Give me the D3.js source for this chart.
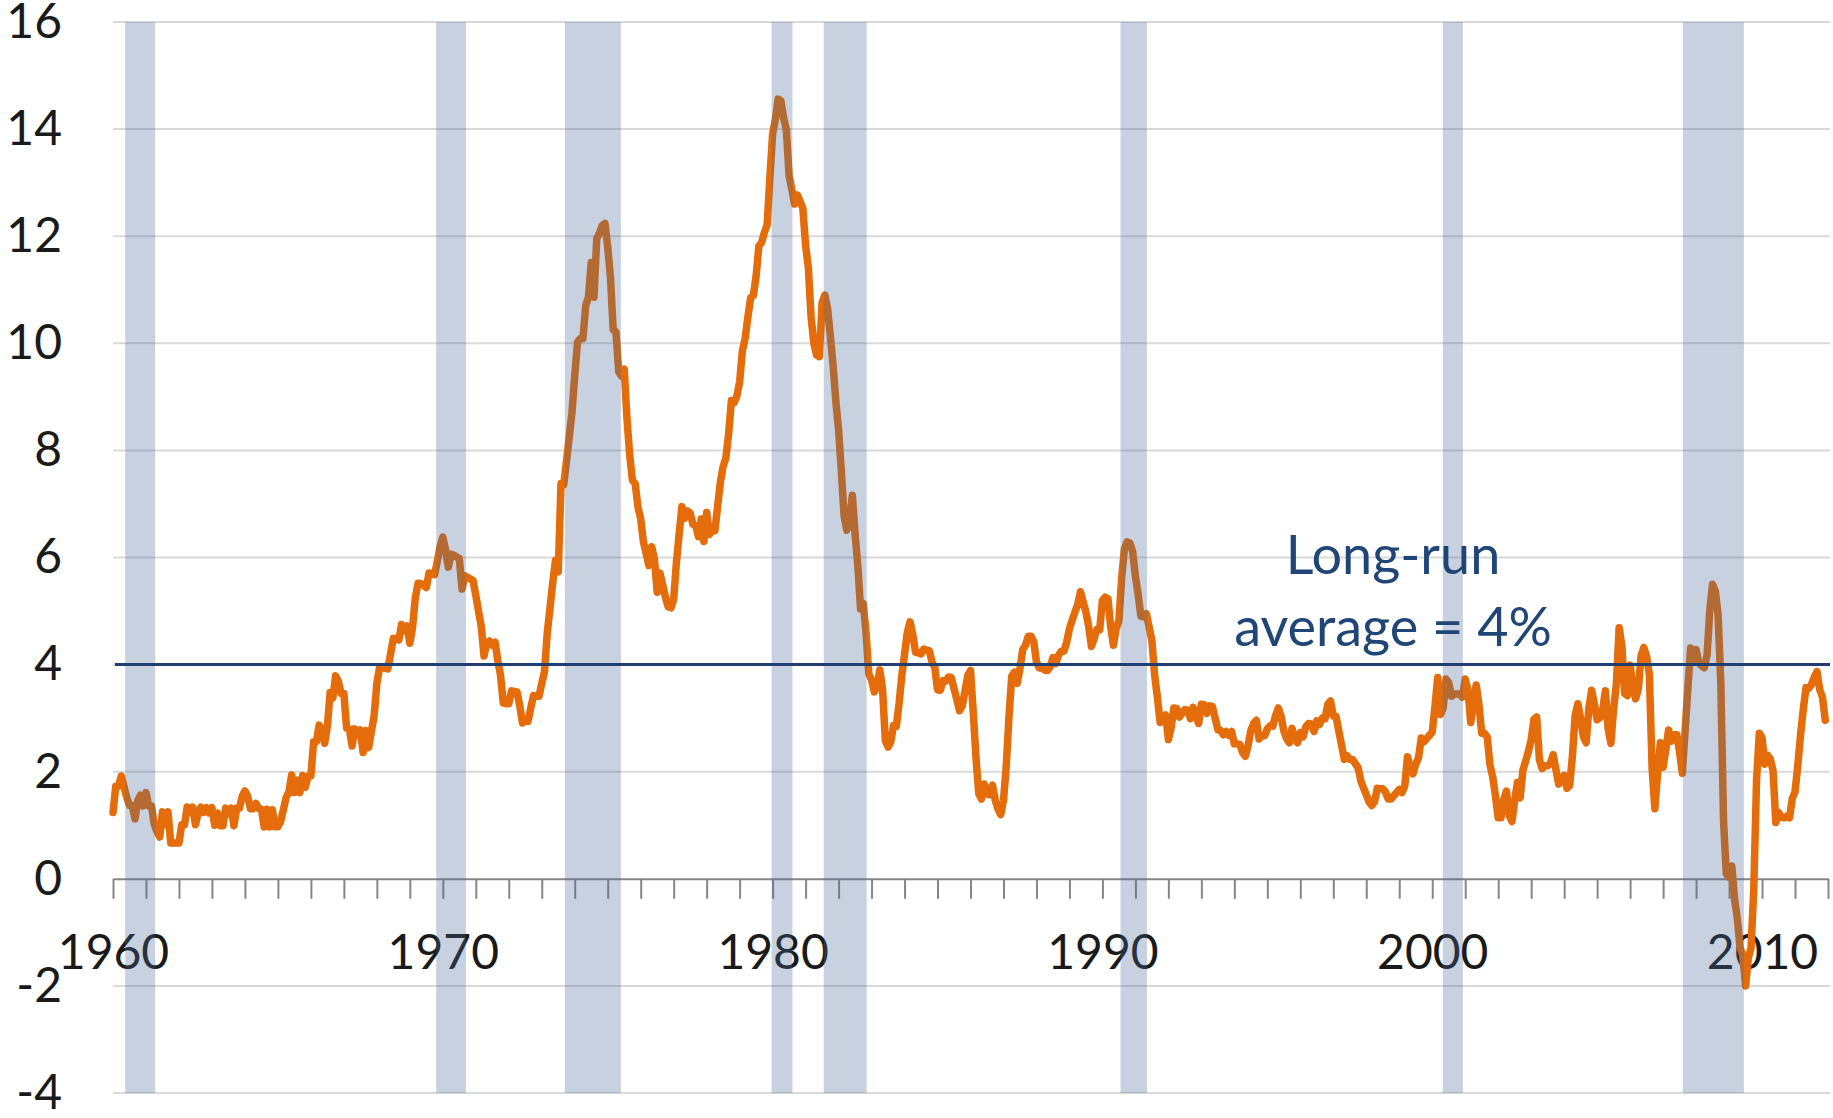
<html lang="en">
<head>
    <meta charset="utf-8">
    <title>Inflation and recessions</title>
    <script src="https://cdn.jsdelivr.net/npm/d3@7/dist/d3.min.js"></script>
    <style type="text/css">
        body {
            margin: 0;
            background: #fff;
        }
        svg text {
            font-family: Lato, "Open Sans", sans-serif;
        }
        .grid line {
            stroke: #d9d9d9;
            stroke-width: 2px;
        }
        .xaxis path,
        .xaxis line {
            stroke: #868686;
            stroke-width: 2px;
            fill: none;
        }
    </style>
</head>
<body>
<div id="chart"></div>
<script type="text/javascript">

    // monthly CPI inflation, % change from a year earlier, Jan 1960 - Dec 2011
    var startYear = 1960;
    var inflation = [
        1.24, 1.73, 1.73, 1.92, 1.72, 1.52, 1.37, 1.37, 1.12, 1.46, 1.56, 1.36,
        1.61, 1.36, 1.36, 1.02, 0.88, 0.78, 1.25, 1.01, 1.25, 0.67, 0.67, 0.67,
        0.67, 1.01, 1.01, 1.34, 1.24, 1.34, 1.01, 1.24, 1.34, 1.24, 1.33, 1.23,
        1.33, 1.00, 1.23, 0.99, 0.99, 1.32, 1.22, 1.32, 0.99, 1.32, 1.32, 1.54,
        1.64, 1.54, 1.31, 1.31, 1.41, 1.31, 1.30, 0.97, 1.30, 0.97, 1.29, 0.97,
        0.97, 1.07, 1.29, 1.52, 1.62, 1.94, 1.61, 1.84, 1.61, 1.93, 1.71, 1.92,
        1.92, 2.56, 2.56, 2.87, 2.77, 2.53, 2.85, 3.48, 3.38, 3.79, 3.69, 3.46,
        3.46, 2.81, 2.80, 2.48, 2.80, 2.69, 2.78, 2.36, 2.77, 2.45, 2.75, 3.04,
        3.65, 3.95, 3.94, 3.93, 3.92, 4.20, 4.49, 4.48, 4.46, 4.75, 4.63, 4.72,
        4.40, 4.70, 5.25, 5.52, 5.51, 5.48, 5.44, 5.71, 5.70, 5.68, 5.93, 6.20,
        6.38, 6.15, 5.82, 6.06, 6.04, 6.01, 5.98, 5.41, 5.66, 5.63, 5.60, 5.57,
        5.29, 5.00, 4.71, 4.16, 4.40, 4.44, 4.36, 4.42, 4.08, 3.80, 3.28, 3.27,
        3.27, 3.51, 3.50, 3.49, 3.23, 2.91, 2.95, 2.94, 3.19, 3.42, 3.41, 3.41,
        3.65, 3.87, 4.59, 5.06, 5.53, 5.95, 5.73, 7.38, 7.36, 7.80, 8.25, 8.71,
        9.39, 10.02, 10.09, 10.09, 10.71, 10.86, 11.51, 10.86, 11.95, 12.06, 12.20, 12.24,
        11.80, 11.23, 10.25, 10.21, 9.47, 9.39, 9.52, 8.60, 7.91, 7.44, 7.38, 6.94,
        6.72, 6.29, 6.07, 5.85, 6.20, 5.97, 5.35, 5.71, 5.49, 5.26, 5.08, 5.06,
        5.22, 5.91, 6.44, 6.95, 6.73, 6.87, 6.83, 6.62, 6.60, 6.39, 6.72, 6.30,
        6.84, 6.43, 6.55, 6.50, 6.96, 7.41, 7.70, 7.86, 8.31, 8.93, 8.89, 9.02,
        9.28, 9.86, 10.09, 10.49, 10.85, 10.89, 11.26, 11.82, 11.88, 12.07, 12.21, 13.09,
        13.91, 14.18, 14.56, 14.53, 14.21, 13.98, 13.13, 12.87, 12.60, 12.77, 12.65, 12.52,
        11.83, 11.41, 10.49, 10.00, 9.78, 9.75, 10.76, 10.90, 10.65, 10.14, 9.59, 8.92,
        8.39, 7.62, 6.78, 6.51, 6.68, 7.16, 6.44, 5.85, 5.04, 5.14, 4.59, 3.83,
        3.71, 3.49, 3.60, 3.90, 3.55, 2.58, 2.46, 2.56, 2.86, 2.85, 3.27, 3.79,
        4.19, 4.60, 4.80, 4.56, 4.23, 4.22, 4.20, 4.29, 4.27, 4.26, 4.05, 3.95,
        3.53, 3.52, 3.70, 3.69, 3.77, 3.76, 3.55, 3.35, 3.14, 3.23, 3.51, 3.80,
        3.89, 3.11, 2.26, 1.59, 1.49, 1.77, 1.58, 1.57, 1.75, 1.47, 1.30, 1.20,
        1.46, 2.10, 3.03, 3.78, 3.86, 3.65, 3.93, 4.28, 4.36, 4.53, 4.53, 4.43,
        4.05, 3.94, 3.93, 3.90, 3.89, 3.96, 4.13, 4.02, 4.17, 4.25, 4.25, 4.42,
        4.67, 4.83, 4.98, 5.12, 5.36, 5.17, 4.98, 4.71, 4.34, 4.49, 4.66, 4.65,
        5.20, 5.26, 5.23, 4.71, 4.36, 4.67, 4.82, 5.62, 6.16, 6.29, 6.27, 6.11,
        5.65, 5.31, 4.90, 4.89, 4.95, 4.70, 4.45, 3.80, 3.39, 2.92, 2.99, 3.06,
        2.60, 2.82, 3.19, 3.18, 3.02, 3.09, 3.16, 3.15, 2.99, 3.20, 3.05, 2.90,
        3.26, 3.25, 3.09, 3.23, 3.22, 3.00, 2.78, 2.77, 2.69, 2.75, 2.68, 2.75,
        2.52, 2.52, 2.51, 2.36, 2.29, 2.49, 2.77, 2.90, 2.96, 2.61, 2.67, 2.67,
        2.80, 2.86, 2.85, 3.05, 3.19, 3.04, 2.76, 2.62, 2.54, 2.81, 2.61, 2.54,
        2.73, 2.65, 2.84, 2.90, 2.89, 2.75, 2.95, 2.88, 3.00, 2.99, 3.26, 3.32,
        3.04, 3.03, 2.76, 2.50, 2.23, 2.30, 2.23, 2.23, 2.15, 2.08, 1.83, 1.70,
        1.57, 1.44, 1.37, 1.44, 1.69, 1.68, 1.68, 1.62, 1.49, 1.49, 1.55, 1.61,
        1.67, 1.61, 1.73, 2.28, 2.09, 1.96, 2.14, 2.26, 2.63, 2.56, 2.62, 2.68,
        2.74, 3.22, 3.76, 3.07, 3.19, 3.73, 3.66, 3.41, 3.45, 3.45, 3.45, 3.39,
        3.73, 3.53, 2.92, 3.27, 3.62, 3.25, 2.72, 2.72, 2.65, 2.13, 1.90, 1.55,
        1.14, 1.14, 1.48, 1.64, 1.18, 1.07, 1.46, 1.80, 1.51, 2.03, 2.20, 2.38,
        2.60, 2.98, 3.02, 2.22, 2.06, 2.11, 2.11, 2.16, 2.32, 2.04, 1.77, 1.88,
        1.93, 1.69, 1.74, 2.29, 3.05, 3.27, 2.99, 2.65, 2.54, 3.19, 3.52, 3.26,
        2.97, 3.01, 3.15, 3.51, 2.80, 2.53, 3.17, 3.64, 4.69, 4.35, 3.46, 3.42,
        3.99, 3.60, 3.36, 3.55, 4.17, 4.32, 4.15, 3.82, 2.06, 1.31, 1.97, 2.54,
        2.08, 2.42, 2.78, 2.57, 2.69, 2.69, 2.36, 1.97, 2.76, 3.54, 4.31, 4.08,
        4.28, 4.03, 3.98, 3.94, 4.18, 5.02, 5.50, 5.37, 4.94, 3.66, 1.07, 0.09,
        0.03, 0.24, -0.38, -0.74, -1.28, -1.43, -2.00, -1.48, -1.29, -0.18, 1.84, 2.72,
        2.63, 2.14, 2.31, 2.24, 2.02, 1.05, 1.24, 1.15, 1.14, 1.17, 1.14, 1.50,
        1.63, 2.11, 2.68, 3.16, 3.57, 3.56, 3.63, 3.77, 3.87, 3.53, 3.39, 2.96
    ];

    // shaded recession periods, as fractional years
    var recessionStart = [1960.37, 1969.80, 1973.70, 1979.97, 1981.55, 1990.55, 2000.32, 2007.60];
    var recessionEnd   = [1961.28, 1970.70, 1975.40, 1980.60, 1982.85, 1991.35, 2000.93, 2009.45];

    var longRunAverage = 4;
    var yTicks = [-4, -2, 0, 2, 4, 6, 8, 10, 12, 14, 16];
    var xLabelYears = [1960, 1970, 1980, 1990, 2000, 2010];
    var xDomain = [1960, 2012];

    var width = 1833,
        height = 1118;

    var x = d3.scaleLinear().domain(xDomain).range([113, 1828]);
    var y = d3.scaleLinear().domain([-4, 16]).range([1093, 22]);

    var svg = d3.select("#chart").append("svg")
        .attr("width", width)
        .attr("height", height);

    // horizontal gridlines (zero is drawn by the axis)
    svg.append("g")
        .attr("class", "grid")
        .selectAll("line")
        .data(yTicks.filter(function (d) { return d !== 0; }))
        .enter().append("line")
        .attr("x1", x(xDomain[0]))
        .attr("x2", x(xDomain[1]) + 2)
        .attr("y1", function (d) { return y(d); })
        .attr("y2", function (d) { return y(d); });

    // y labels, plain hyphen for negatives like the original
    svg.append("g")
        .attr("transform", "translate(" + x(xDomain[0]) + ",0)")
        .call(d3.axisLeft(y).tickValues(yTicks).tickSize(0).tickPadding(51)
            .tickFormat(function (d) { return String(d); }))
        .call(function (g) { g.select(".domain").remove(); })
        .selectAll("text")
        .style("font-size", "48px")
        .style("fill", "#1a1a1a");

    // x axis on zero with yearly ticks
    svg.append("g")
        .attr("class", "xaxis")
        .attr("transform", "translate(0," + y(0) + ")")
        .call(d3.axisBottom(x)
            .tickValues(d3.range(xDomain[0], xDomain[1] + 1))
            .tickSize(20).tickSizeOuter(0)
            .tickFormat(""));

    svg.append("g")
        .attr("transform", "translate(0," + y(0) + ")")
        .call(d3.axisBottom(x).tickValues(xLabelYears).tickSize(0).tickPadding(56)
            .tickFormat(function (d) { return String(d); }))
        .call(function (g) { g.select(".domain").remove(); })
        .selectAll("text")
        .style("font-size", "48px")
        .style("fill", "#1a1a1a");

    // inflation line
    var line = d3.line()
        .x(function (d, i) { return x(startYear + i / 12); })
        .y(function (d) { return y(d); });

    svg.append("path")
        .datum(inflation)
        .attr("d", line)
        .attr("fill", "none")
        .attr("stroke", "#e46c0a")
        .attr("stroke-width", 7.5)
        .attr("stroke-linejoin", "round")
        .attr("stroke-linecap", "round");

    // recession bands, translucent so the line shows through
    svg.append("g")
        .selectAll("rect")
        .data(recessionStart)
        .enter().append("rect")
        .attr("x", function (d) { return x(d); })
        .attr("width", function (d, i) { return x(recessionEnd[i]) - x(d); })
        .attr("y", y(16))
        .attr("height", y(-4) - y(16))
        .attr("fill", "#446896")
        .attr("fill-opacity", 0.3);

    // long-run average
    svg.append("line")
        .attr("x1", x(xDomain[0]) + 2)
        .attr("x2", x(xDomain[1]) + 2)
        .attr("y1", y(longRunAverage))
        .attr("y2", y(longRunAverage))
        .attr("stroke", "#1f3f73")
        .attr("stroke-width", 3);

    var note = svg.append("text")
        .attr("text-anchor", "middle")
        .style("font-size", "54px")
        .style("fill", "#1f4677");
    note.append("tspan")
        .attr("x", 1393)
        .attr("y", 574)
        .text("Long-run");
    note.append("tspan")
        .attr("x", 1393)
        .attr("y", 646)
        .text("average = 4%");

</script>
</body>
</html>
